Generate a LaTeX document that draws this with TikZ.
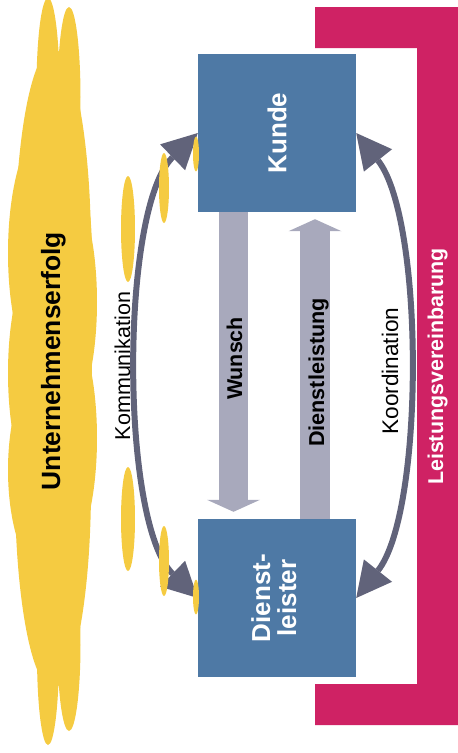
\documentclass[tikz,border=0pt]{standalone}
\usepackage{fontspec}
\setmainfont{Liberation Sans}
\usetikzlibrary{arrows.meta}
\definecolor{cloudyellow}{HTML}{F5CB41}
\definecolor{boxblue}{HTML}{4E79A5}
\definecolor{bracketmagenta}{HTML}{CF2264}
\definecolor{blockgray}{HTML}{A8A9BC}
\definecolor{curvegray}{HTML}{61637A}
\tikzset{
  partybox/.style={fill=boxblue, minimum width=158pt, minimum height=158pt, inner sep=0pt, text=white, font=\bfseries\fontsize{26}{30}\selectfont, align=center},
  blockarrow/.style={draw=blockgray, line width=29.5pt, -{Triangle[length=12pt,width=53pt,line width=0pt]}},
  curvearrow/.style={draw=curvegray, line width=6pt, {Triangle[length=35pt,width=36pt,line width=0pt]}-{Triangle[length=35pt,width=36pt,line width=0pt]}},
  cloud/.style={fill=cloudyellow},
  vtext/.style={rotate=90, anchor=base, inner sep=0pt},
}
\begin{document}
\begin{tikzpicture}[x=1pt,y=-1pt]
\useasboundingbox (0,0) rectangle (458,753);
% cloud "Unternehmenserfolg"
\fill[cloud] (48,88) ellipse [x radius=11.5, y radius=90];
\fill[cloud] (69,97) ellipse [x radius=11.5, y radius=90];
\fill[cloud] (48,655) ellipse [x radius=11, y radius=90];
\fill[cloud] (69,645) ellipse [x radius=11.5, y radius=86];
\fill[cloud] (53,250) ellipse [x radius=38, y radius=201];
\fill[cloud] (53,487) ellipse [x radius=38, y radius=201];
\fill[cloud] (50,253) ellipse [x radius=42, y radius=130];
\fill[cloud] (50,373) ellipse [x radius=42, y radius=130];
\fill[cloud] (50,470) ellipse [x radius=42, y radius=110];
\fill[cloud] (56,302) ellipse [x radius=41, y radius=130];
\fill[cloud] (56,438) ellipse [x radius=41, y radius=130];
\node[vtext, font=\bfseries\fontsize{26.4}{30}\selectfont] (erfolg) at (60,361) {Unternehmenserfolg};
% bracket
\fill[bracketmagenta] (315,7) -- (458,7) -- (458,725) -- (315,725) -- (315,684) -- (417,684) -- (417,48) -- (315,48) -- cycle;
\node[vtext, text=white, font=\bfseries\fontsize{21.4}{26}\selectfont] (lv) at (443,366.5) {Leistungsvereinbarung};
% boxes
\node[partybox] (kunde) at (277,133) {\rotatebox{90}{Kunde}};
\node[partybox] (dl) at (277,598) {\rotatebox{90}{\begin{tabular}{@{}c@{}}Dienst-\\[-4pt]leister\end{tabular}}};
% block arrows
\draw[blockarrow] ([xshift=-43.5pt]kunde.south) -- ([xshift=-43.5pt,yshift=7pt]dl.north);
\draw[blockarrow] ([xshift=38pt]dl.north) -- ([xshift=38pt,yshift=-7pt]kunde.south);
\node[vtext, font=\bfseries\fontsize{21.4}{26}\selectfont] (wunsch) at (242,358.5) {Wunsch};
\node[vtext, font=\bfseries\fontsize{21.6}{26}\selectfont] (dlst) at (324,372.5) {Dienstleistung};
% curved arrows
\draw[curvearrow] (kunde.west) .. controls (120,208) and (120,523) .. (dl.west);
\draw[curvearrow] (kunde.east) .. controls (424.5,219) and (424.5,512) .. (dl.east);
\node[vtext, font=\fontsize{21.5}{26}\selectfont] (komm) at (130,366) {Kommunikation};
\node[vtext, font=\fontsize{22.6}{26}\selectfont] (koord) at (398,371) {Koordination};
% small yellow spots
\fill[cloud] (128,229) ellipse [x radius=7, y radius=53];
\fill[cloud] (128,519) ellipse [x radius=7, y radius=52];
\fill[cloud] (164,188) ellipse [x radius=5, y radius=35];
\fill[cloud] (164,561) ellipse [x radius=5, y radius=35];
\fill[cloud] (196,154) ellipse [x radius=3, y radius=17.5];
\fill[cloud] (196,597) ellipse [x radius=3, y radius=17.5];
\end{tikzpicture}
\end{document}
